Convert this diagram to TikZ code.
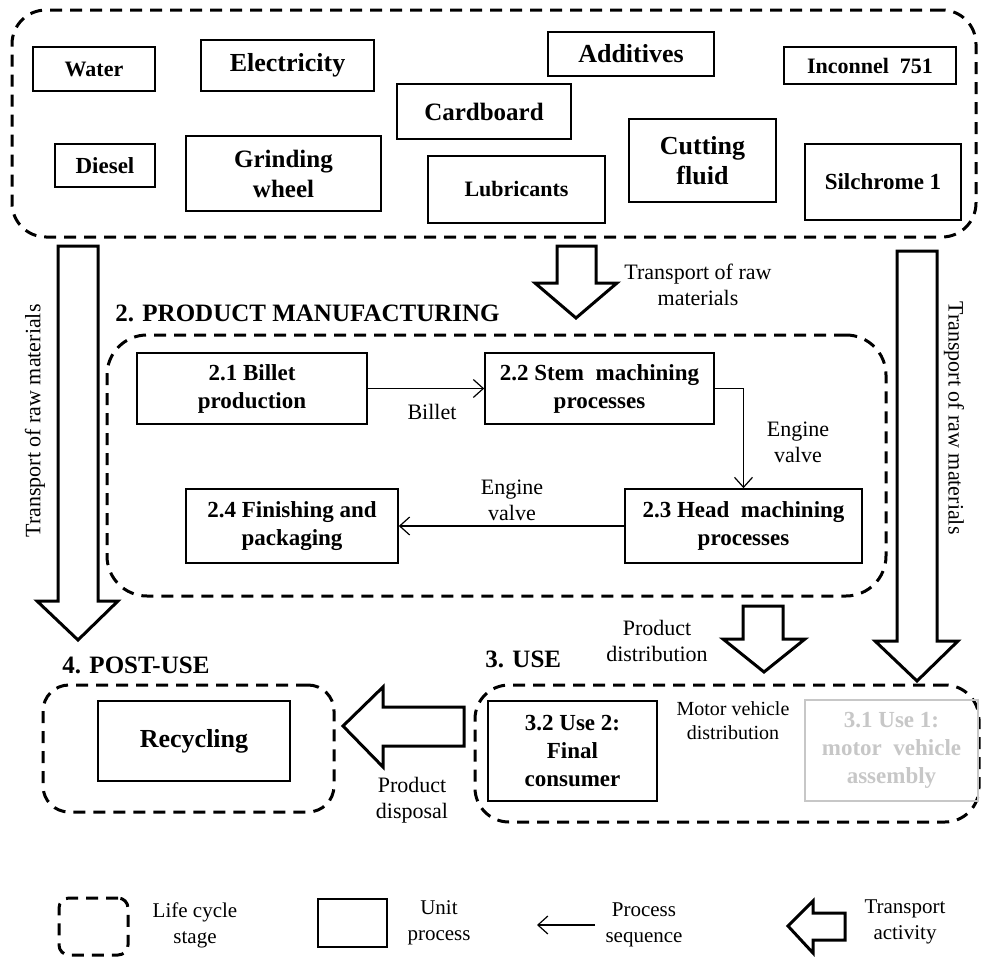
\documentclass[tikz,border=0pt]{standalone}
\usepackage{fontspec}
\setmainfont{Liberation Serif}
\usepackage{xcolor}
\usetikzlibrary{arrows.meta,calc}
\definecolor{faded}{gray}{0.78}
\tikzset{
	stage/.style={draw, line width=1.5pt, dash pattern=on 6pt off 4pt, inner sep=0pt},
	unit/.style={draw, line width=0.8pt, align=center, inner sep=0pt,
			font=\bfseries\fontsize{11.5}{14}\selectfont},
	bigunit/.style={unit, font=\bfseries\fontsize{13}{15}\selectfont},
	heading/.style={anchor=west, inner sep=0pt, font=\bfseries\fontsize{12.5}{15}\selectfont},
	lab/.style={align=center, inner sep=0pt, font=\fontsize{11}{13}\selectfont},
	flow/.style={line width=0.6pt, -{Straight Barb[length=5pt,width=9pt]}},
	transport/.style={draw, fill=white, line width=1.5pt, line join=miter}
}

\begin{document}
\begin{tikzpicture}[x=0.5pt,y=-0.5pt]
	\useasboundingbox (0,0) rectangle (982,958);

	% raw materials
	\node[stage, rounded corners=17pt, minimum width=482pt, minimum height=113.5pt] (raw) at (494,123.5) {};
	\node[unit, minimum width=61pt, minimum height=22pt, font=\bfseries\fontsize{11}{13}\selectfont] (water) at (94,69) {Water};
	\node[bigunit, minimum width=86.5pt, minimum height=25.5pt] (elec) at (287.5,65.5) {Electricity};
	\node[unit, minimum width=87pt, minimum height=27.5pt, font=\bfseries\fontsize{12.5}{15}\selectfont] (cardboard) at (484,111.5) {Cardboard};
	\node[unit, minimum width=50pt, minimum height=21.5pt] (diesel) at (105,165.5) {Diesel};
	\node[unit, minimum width=97.5pt, minimum height=37.5pt, font=\bfseries\fontsize{12.5}{15}\selectfont] (grinding) at (283.5,173.5) {Grinding\\wheel};
	\node[unit, minimum width=88.5pt, minimum height=33.5pt, font=\bfseries\fontsize{11}{13}\selectfont] (lubricants) at (516.5,189.5) {Lubricants};
	\node[bigunit, minimum width=83pt, minimum height=22pt] (additives) at (631,54) {Additives};
	\node[unit, minimum width=86pt, minimum height=18.5pt, font=\bfseries\fontsize{11}{13}\selectfont] (inconnel) at (870,65.5) {Inconnel\ \ 751};
	\node[bigunit, minimum width=73.5pt, minimum height=41.5pt] (cutting) at (702.5,160.5) {Cutting\\fluid};
	\node[unit, minimum width=78pt, minimum height=38pt] (silchrome) at (883,182) {Silchrome 1};

	% transport of raw materials
	\draw[transport] (58,246) -- (98,246) -- (98,601) -- (118,601) -- (78,640) -- (37,601) -- (58,601) -- cycle;
	\draw[transport] (557,246) -- (596,246) -- (596,283) -- (617,283) -- (576,318) -- (535,283) -- (557,283) -- cycle;
	\draw[transport] (897,251) -- (937,251) -- (937,641) -- (958,641) -- (917,681) -- (875,641) -- (897,641) -- cycle;
	\node[lab, rotate=90] (tleft) at (35,421) {Transport of raw materials};
	\node[lab, rotate=-90] (tright) at (954,418) {Transport of raw materials};
	\node[lab] (tmid) at (698,285) {Transport of raw\\materials};

	% product manufacturing
	\node[heading] (manuf) at (115,313) {2. PRODUCT MANUFACTURING};
	\node[stage, rounded corners=20pt, minimum width=389.5pt, minimum height=130.5pt] (manufbox) at (496.5,465.5) {};
	\node[unit, minimum width=115pt, minimum height=35.5pt] (b21) at (252,388.5) {2.1 Billet\\production};
	\node[unit, minimum width=114.5pt, minimum height=35.5pt] (b22) at (599.5,388.5) {2.2 Stem\ \ machining\\processes};
	\node[unit, minimum width=118.5pt, minimum height=37pt] (b23) at (743.5,526) {2.3 Head\ \ machining\\processes};
	\node[unit, minimum width=106pt, minimum height=37pt] (b24) at (292,526) {2.4 Finishing and\\packaging};
	\draw[flow] (b21) -- (b22);
	\draw[flow] (b22.east) -| (b23.north);
	\draw[flow] (b23) -- (b24);
	\node[lab] (billet) at (432,412) {Billet};
	\node[lab] (valve1) at (798,442) {Engine\\valve};
	\node[lab] (valve2) at (512,500) {Engine\\valve};

	% use
	\draw[transport] (743,606) -- (783,606) -- (783,639) -- (805,639) -- (764,672) -- (723,639) -- (743,639) -- cycle;
	\node[lab] (distrib) at (657,641) {Product\\distribution};
	\node[heading] (use) at (485,659) {3. USE};
	\node[stage, rounded corners=17pt, minimum width=252pt, minimum height=68.5pt] (usebox) at (727,753.5) {};
	\node[unit, minimum width=84.5pt, minimum height=50pt] (b32) at (572.5,751) {3.2 Use 2:\\Final\\consumer};
	\node[unit, draw=faded, text=faded, minimum width=86.5pt, minimum height=50.5pt] (b31) at (891.5,750.5) {3.1 Use 1:\\motor\ \ vehicle\\assembly};
	\node[lab, font=\fontsize{10}{12}\selectfont] (motor) at (733,721) {Motor vehicle\\distribution};

	% post-use
	\node[heading] (post) at (62,665) {4. POST-USE};
	\node[stage, rounded corners=13pt, minimum width=145.5pt, minimum height=63.5pt] (postbox) at (188.5,748.5) {};
	\node[bigunit, minimum width=96pt, minimum height=40pt] (recycling) at (194,741) {Recycling};
	\draw[transport] (464,707) -- (464,746) -- (383,746) -- (383,767) -- (343,726) -- (383,687) -- (383,707) -- cycle;
	\node[lab] (disposal) at (412,800) {Product\\disposal};

	% legend
	\node[stage, rounded corners=5pt, minimum width=34.5pt, minimum height=28.5pt] (legstage) at (93.5,926.5) {};
	\node[lab, font=\fontsize{10.5}{13}\selectfont] (legstagetxt) at (195,925) {Life cycle\\stage};
	\node[draw, line width=0.8pt, minimum width=34.5pt, minimum height=24pt, inner sep=0pt] (legunit) at (352.5,923) {};
	\node[lab, font=\fontsize{10.5}{13}\selectfont] (legunittxt) at (439,923) {Unit\\process};
	\coordinate (legfrom) at (595,925);
	\coordinate (legto) at (537,925);
	\draw[flow] (legfrom) -- (legto);
	\node[lab, font=\fontsize{10.5}{13}\selectfont] (legflowtxt) at (644,925) {Process\\sequence};
	\draw[transport] (845,913) -- (845,940) -- (813,940) -- (813,953) -- (788,926) -- (813,901) -- (813,913) -- cycle;
	\node[lab, font=\fontsize{10.5}{13}\selectfont] (legtransptxt) at (905,922) {Transport\\activity};
\end{tikzpicture}
\end{document}
